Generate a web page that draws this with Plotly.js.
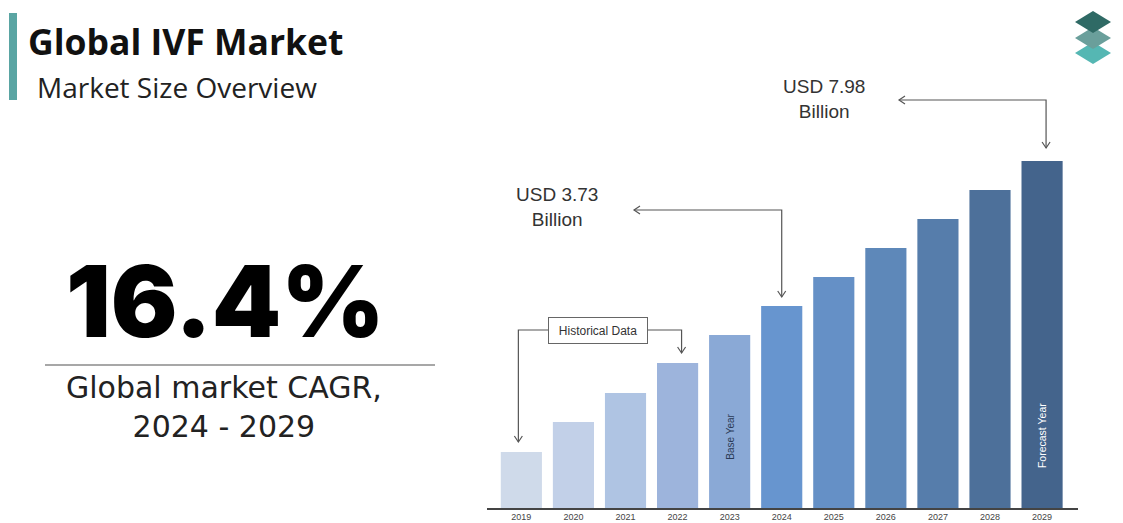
<!DOCTYPE html>
<html>
<head>
<meta charset="utf-8">
<script src="https://cdn.plot.ly/plotly-3.0.1.min.js"></script>
<style>html,body{margin:0;padding:0;background:#fff;}#chart{width:1123px;height:523px;}</style>
</head>
<body>
<div id="chart"></div>
<script>
// ---- data ----
const years = ['2019','2020','2021','2022','2023','2024','2025','2026','2027','2028','2029'];
// relative bar heights as drawn in the graphic (illustrative, not to scale)
const barHeights = [56, 86, 115, 145, 173, 202, 231, 260, 289, 318, 347];
const barColors = ['#cfdaea','#c2d0e8','#afc4e3','#9db4dc','#8aa9d6','#6795cf','#6590c6','#5e88b9','#567dab','#4d709a','#44648c'];
const title = 'Global IVF Market';
const subtitle = 'Market Size Overview';
const cagrValue = '16.4%';
const cagrLabel = 'Global market CAGR,<br>2024 - 2029';
const baseYearLabel = 'Base Year';
const forecastYearLabel = 'Forecast Year';
const histLabel = 'Historical Data';
const startValueLabel = 'USD 3.73<br>Billion';
const endValueLabel = 'USD 7.98<br>Billion';
const baseYear = '2024';
const endYear = '2029';
const baseYearBar = '2023';

// ---- geometry ----
const W = 1123, H = 523;
const xDom = [487 / W, 1078 / W], xRange = [-0.66, 10.69];
const yDom = [15 / H, 1], yRange = [0, 508];
const X = i => xDom[0] + (i - xRange[0]) / (xRange[1] - xRange[0]) * (xDom[1] - xDom[0]);
const Y = v => yDom[0] + (v - yRange[0]) / (yRange[1] - yRange[0]) * (yDom[1] - yDom[0]);
const PX = p => p / W;
const PY = p => 1 - p / H;
const hx = 4 / W, hy = 4 / H, lx = 6 / W, ly = 6 / H;

function poly(pts) {
  return pts.map((p, k) => (k ? 'L' : 'M') + p[0] + ',' + p[1]).join(' ');
}
function headDown(x, y) { return `M${x - hx},${y + ly} L${x},${y} L${x + hx},${y + ly}`; }
function headLeft(x, y) { return `M${x + lx},${y + hy} L${x},${y} L${x + lx},${y - hy}`; }
const lineStyle = {color: '#555', width: 1.2};
const shapes = [];
function addPath(path, color) {
  shapes.push({type: 'path', xref: 'paper', yref: 'paper', path: path, line: color || lineStyle});
}

// header accent bar
shapes.push({type: 'rect', xref: 'paper', yref: 'paper', x0: PX(9), x1: PX(17), y0: PY(100), y1: PY(13),
  fillcolor: '#5aa5a3', line: {width: 0}});
// divider under CAGR
shapes.push({type: 'line', xref: 'paper', yref: 'paper', x0: PX(45), x1: PX(435), y0: PY(365), y1: PY(365),
  line: {color: '#8a8a8a', width: 1.5}});
// logo (three stacked plates)
function rhomb(cxp, cyp, hw, hh, color) {
  shapes.push({type: 'path', xref: 'paper', yref: 'paper',
    path: `M${PX(cxp - hw)},${PY(cyp)} L${PX(cxp)},${PY(cyp - hh)} L${PX(cxp + hw)},${PY(cyp)} L${PX(cxp)},${PY(cyp + hh)} Z`,
    fillcolor: color, line: {width: 0}});
}
rhomb(1093, 53, 18, 11, '#55b7b3');
rhomb(1093, 38, 18, 11, '#6a9f9b');
rhomb(1093, 22, 18, 11, '#2f6a65');

// historical data brackets
const i19 = 0, i22 = years.indexOf('2022');
const histY = Y(178);
addPath(poly([[PX(548), histY], [X(i19) - 3 / W, histY], [X(i19) - 3 / W, Y(barHeights[i19] + 10)]]));
addPath(headDown(X(i19) - 3 / W, Y(barHeights[i19] + 10)));
addPath(poly([[PX(648), histY], [X(i22) + 4 / W, histY], [X(i22) + 4 / W, Y(barHeights[i22] + 10)]]));
addPath(headDown(X(i22) + 4 / W, Y(barHeights[i22] + 10)));

// value arrows
const iB = years.indexOf(baseYear), iE = years.indexOf(endYear), iBase = years.indexOf(baseYearBar);
const yB = Y(298), yE = Y(408);
addPath(poly([[PX(634), yB], [X(iB), yB], [X(iB), Y(barHeights[iB] + 9)]]));
addPath(headLeft(PX(634), yB));
addPath(headDown(X(iB), Y(barHeights[iB] + 9)));
addPath(poly([[PX(899), yE], [X(iE) + 4 / W, yE], [X(iE) + 4 / W, Y(barHeights[iE] + 13)]]));
addPath(headLeft(PX(899), yE));
addPath(headDown(X(iE) + 4 / W, Y(barHeights[iE] + 13)));

const annotations = [
  {text: title, xref: 'paper', yref: 'paper', x: PX(26), y: PY(41), xanchor: 'left', yanchor: 'middle', showarrow: false,
   font: {family: 'Open Sans', size: 35.5, weight: 700, color: '#111'}},
  {text: subtitle, xref: 'paper', yref: 'paper', x: PX(35), y: PY(87), xanchor: 'left', yanchor: 'middle', showarrow: false,
   font: {family: 'Open Sans', size: 28, color: '#222'}},
  {text: cagrValue, xref: 'paper', yref: 'paper', x: PX(225), y: PY(301), xanchor: 'center', yanchor: 'middle', showarrow: false,
   font: {family: 'Inter', size: 99, weight: 900, color: '#000'}},
  {text: cagrLabel, xref: 'paper', yref: 'paper', x: PX(224), y: PY(407), xanchor: 'center', yanchor: 'middle', showarrow: false,
   align: 'center', font: {family: 'DejaVu Sans', size: 30, color: '#222'}},
  {text: histLabel, xref: 'paper', yref: 'paper', x: PX(598), y: histY, xanchor: 'center', yanchor: 'middle', showarrow: false,
   bordercolor: '#666', borderwidth: 1, borderpad: 6, bgcolor: '#fff', width: 86, height: 13,
   font: {family: 'Liberation Sans', size: 12, color: '#333'}},
  {text: startValueLabel, xref: 'paper', yref: 'paper', x: PX(557), y: PY(207), xanchor: 'center', yanchor: 'middle', showarrow: false,
   align: 'center', font: {family: 'Liberation Sans', size: 19, color: '#333'}},
  {text: endValueLabel, xref: 'paper', yref: 'paper', x: PX(824), y: PY(99), xanchor: 'center', yanchor: 'middle', showarrow: false,
   align: 'center', font: {family: 'Liberation Sans', size: 19, color: '#333'}},
  {text: baseYearLabel, xref: 'paper', yref: 'paper', x: X(iBase), y: PY(437), xanchor: 'center', yanchor: 'middle',
   textangle: -90, showarrow: false,
   font: {family: 'Liberation Sans', size: 10, color: '#2a3a55'}},
  {text: forecastYearLabel, xref: 'paper', yref: 'paper', x: X(iE), y: PY(436), xanchor: 'center', yanchor: 'middle',
   textangle: -90, showarrow: false,
   font: {family: 'Liberation Sans', size: 10.5, color: '#fff'}}
];

const data = [{
  type: 'bar', x: years, y: barHeights,
  marker: {color: barColors, line: {width: 0}},
  hoverinfo: 'x+y'
}];

const layout = {
  width: W, height: H,
  margin: {l: 0, r: 0, t: 0, b: 0},
  paper_bgcolor: '#fff', plot_bgcolor: 'rgba(0,0,0,0)',
  showlegend: false,
  bargap: 0.21,
  xaxis: {type: 'category', domain: xDom, range: xRange, showgrid: false, zeroline: false,
    showline: true, linecolor: '#444', linewidth: 1.5, ticks: '', ticklen: 0,
    tickfont: {family: 'Liberation Sans', size: 9, color: '#444'}, fixedrange: true},
  yaxis: {domain: yDom, range: yRange, visible: false, showgrid: false, zeroline: false, fixedrange: true},
  shapes: shapes,
  annotations: annotations
};

Plotly.newPlot('chart', data, layout, {displayModeBar: false, staticPlot: true});
</script>
</body>
</html>
